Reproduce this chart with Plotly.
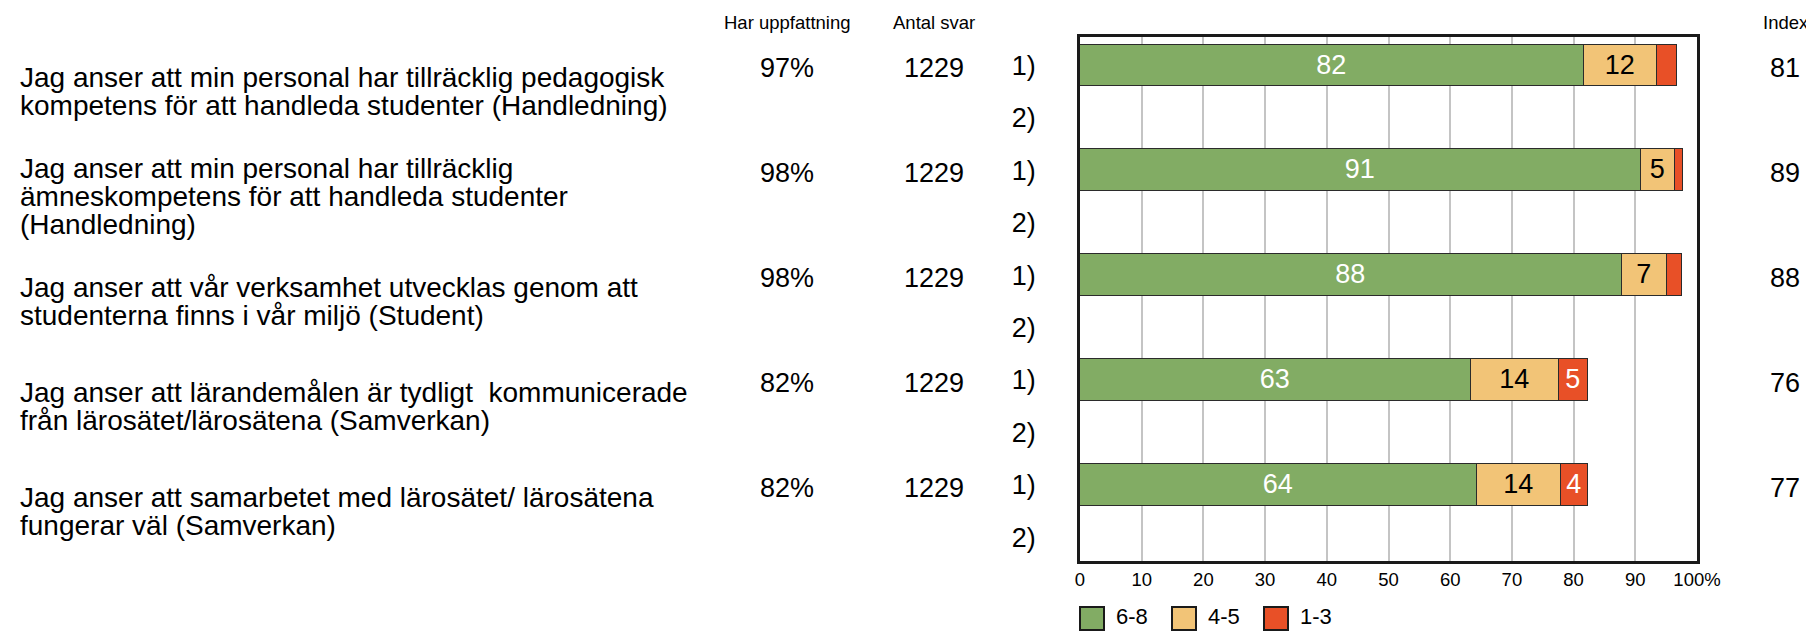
import plotly.graph_objects as go

# ---- data ----
questions = [
    ["Jag anser att min personal har tillräcklig pedagogisk",
     "kompetens för att handleda studenter (Handledning)"],
    ["Jag anser att min personal har tillräcklig",
     "ämneskompetens för att handleda studenter",
     "(Handledning)"],
    ["Jag anser att vår verksamhet utvecklas genom att",
     "studenterna finns i vår miljö (Student)"],
    ["Jag anser att lärandemålen är tydligt  kommunicerade",
     "från lärosätet/lärosätena (Samverkan)"],
    ["Jag anser att samarbetet med lärosätet/ lärosätena",
     "fungerar väl (Samverkan)"],
]
har_uppfattning = [97, 98, 98, 82, 82]
antal_svar = [1229, 1229, 1229, 1229, 1229]
index_vals = [81, 89, 88, 76, 77]

share_6_8 = [81.7, 91.0, 87.8, 63.3, 64.3]
share_4_5 = [11.8, 5.4, 7.3, 14.3, 13.7]
share_1_3 = [3.2, 1.4, 2.4, 4.7, 4.3]

series_names = ["6-8", "4-5", "1-3"]
series_colors = ["#82AC64", "#F2C477", "#E85027"]
series_text_colors = ["white", "black", "white"]
row_labels = ["1)", "2)"]
x_ticks = [0, 10, 20, 30, 40, 50, 60, 70, 80, 90, 100]
x_ticktext = ["0", "10", "20", "30", "40", "50", "60", "70", "80", "90", "100%"]

FONT = "Liberation Sans, Arial, sans-serif"

# the page body has an 8px margin, so the figure is drawn 8px in from the corner
OFF = 8
PLOT_L, PLOT_R, PLOT_T, PLOT_B = 1080, 1697, 37, 561   # plot area in screen px
W, H = 1814 - OFF, 631 - OFF
ML, MT = PLOT_L - OFF, PLOT_T - OFF
MR, MB = 1814 - PLOT_R, 631 - PLOT_B
PW, PH = PLOT_R - PLOT_L, PLOT_B - PLOT_T


def px_x(px):
    return (px - PLOT_L) / PW


def px_y(py):
    return (PLOT_B - py) / PH


n = len(questions)
bar_rows = [2 * i for i in range(n)]
all_rows = list(range(2 * n))

fig = go.Figure()
for name, vals, col, tcol in zip(series_names, [share_6_8, share_4_5, share_1_3],
                                 series_colors, series_text_colors):
    fig.add_trace(go.Bar(
        x=vals, y=bar_rows, orientation="h", name=name,
        marker=dict(color=col, line=dict(color="#2b2b2b", width=1.5)),
        width=0.8,
        text=[f"{v:.0f}" if v >= 4 else "" for v in vals],
        textposition="inside", insidetextanchor="middle",
        constraintext="none", textangle=0,
        textfont=dict(color=tcol, size=27, family=FONT),
        hoverinfo="skip", showlegend=False,
    ))

annotations = []
# question texts, one annotation per line
pitch = 28
for i, lines in enumerate(questions):
    k = len(lines)
    for j, line in enumerate(lines):
        off = (j - (k - 1) / 2) * pitch
        annotations.append(dict(
            text=line, xref="paper", yref="y", x=px_x(18), y=2 * i + 0.5,
            xanchor="left", yanchor="middle", yshift=-off, showarrow=False,
            font=dict(size=28, color="black", family=FONT)))

# value columns
for i in range(n):
    for xpx, txt in [(787, f"{har_uppfattning[i]}%"), (934, f"{antal_svar[i]}"),
                     (1785, f"{index_vals[i]}")]:
        annotations.append(dict(
            text=txt, xref="paper", yref="y", x=px_x(xpx), y=bar_rows[i],
            xanchor="center", yanchor="middle", yshift=-3, showarrow=False,
            font=dict(size=27, color="black", family=FONT)))

# column headers
for xpx, txt in [(787, "Har uppfattning"), (934, "Antal svar"), (1786, "Index")]:
    annotations.append(dict(
        text=txt, xref="paper", yref="paper", x=px_x(xpx), y=px_y(22),
        xanchor="center", yanchor="middle", showarrow=False,
        font=dict(size=18.5, color="black", family=FONT)))

# legend drawn by hand (bigger swatches than plotly's own)
shapes = []
for k, (name, col) in enumerate(zip(series_names, series_colors)):
    x0 = 1080 + 92 * k
    shapes.append(dict(
        type="rect", xref="paper", yref="paper",
        x0=px_x(x0), x1=px_x(x0 + 24), y0=px_y(630), y1=px_y(607),
        fillcolor=col, line=dict(color="#1a1a1a", width=2)))
    annotations.append(dict(
        text=name, xref="paper", yref="paper", x=px_x(x0 + 34), y=px_y(616),
        xanchor="left", yanchor="middle", showarrow=False,
        font=dict(size=22, color="black", family=FONT)))

fig.update_layout(
    width=W, height=H,
    margin=dict(l=ML, r=MR, t=MT, b=MB),
    plot_bgcolor="white", paper_bgcolor="white",
    barmode="stack", bargap=0,
    font=dict(family=FONT, color="black"),
    annotations=annotations, shapes=shapes,
    xaxis=dict(
        range=[0, 100], tickvals=x_ticks, ticktext=x_ticktext,
        showgrid=True, gridcolor="#C4C4C4", gridwidth=2,
        showline=True, linecolor="#1a1a1a", linewidth=2.5, mirror=True,
        ticks="", zeroline=False, ticklabelstandoff=0,
        tickfont=dict(size=18.5, color="black", family=FONT),
        fixedrange=True,
    ),
    yaxis=dict(
        range=[9.453, -0.543], tickvals=all_rows,
        ticktext=[row_labels[r % 2] for r in all_rows],
        showgrid=False, zeroline=False, ticks="",
        showline=True, linecolor="#1a1a1a", linewidth=2.5, mirror=True,
        ticklabelstandoff=36,
        tickfont=dict(size=27, color="black", family=FONT),
        fixedrange=True,
    ),
)

fig.write_html("out.html")
